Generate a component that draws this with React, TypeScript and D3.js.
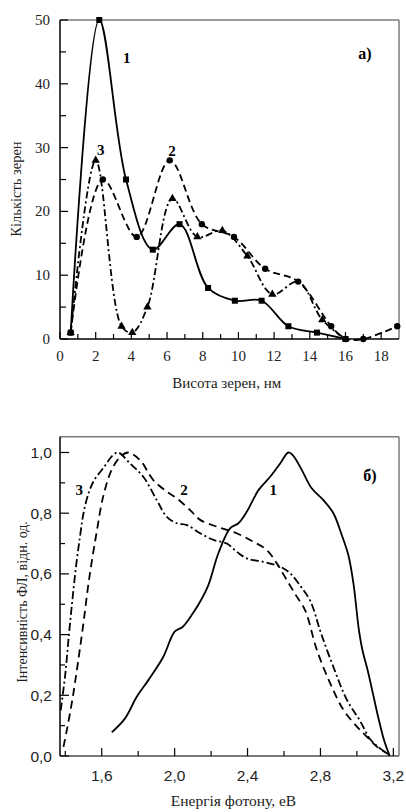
import React from "react";
import * as d3 from "d3";

// Panel а) grain height distribution
const grainX1 = [0.6, 2.2, 3.7, 5.2, 6.7, 8.3, 9.8, 11.3, 12.8, 14.4, 16];
const grainY1 = [1, 50, 25, 14, 18, 8, 6, 6, 2, 1, 0];
const grainX2 = [0.6, 2.4, 4.3, 6.15, 7.95, 9.75, 11.5, 13.35, 15.2, 16, 17, 18.9];
const grainY2 = [1, 25, 16, 28, 18, 16, 11, 9, 2, 0, 0, 2];
const grainX3 = [0.6, 2.0, 3.45, 4.05, 4.9, 6.3, 7.7, 9.1, 10.5, 11.9, 13.35, 14.7, 16];
const grainY3 = [1, 28, 2, 1, 5, 22, 16, 17, 13, 7, 9, 3, 0];
const grainMark3 = [1, 1, 1, 1, 1, 1, 1, 1, 1, 1, 0, 1, 0];
const grainXTicks = [0, 2, 4, 6, 8, 10, 12, 14, 16, 18];
const grainYTicks = [0, 10, 20, 30, 40, 50];

// Panel б) PL spectra
const plE1 = [1.655, 1.728, 1.792, 1.856, 1.938, 2.0, 2.045, 2.1, 2.145, 2.185, 2.24, 2.304, 2.35, 2.396, 2.46, 2.524, 2.579, 2.624, 2.65, 2.698, 2.752, 2.816, 2.871, 2.917, 2.953, 2.981, 3.01, 3.03, 3.06, 3.09, 3.12, 3.15, 3.18];
const plI1 = [0.078, 0.124, 0.195, 0.25, 0.327, 0.41, 0.426, 0.47, 0.514, 0.563, 0.668, 0.75, 0.767, 0.805, 0.876, 0.92, 0.964, 1.0, 0.99, 0.942, 0.882, 0.843, 0.8, 0.728, 0.662, 0.569, 0.42, 0.35, 0.28, 0.2, 0.12, 0.05, 0.0];
const plE2 = [1.39, 1.41, 1.44, 1.47, 1.5, 1.53, 1.57, 1.61, 1.66, 1.71, 1.745, 1.81, 1.883, 1.957, 2.012, 2.085, 2.14, 2.23, 2.34, 2.432, 2.505, 2.56, 2.615, 2.665, 2.716, 2.78, 2.853, 2.926, 3.0, 3.054, 3.109, 3.17];
const plI2 = [0.03, 0.09, 0.19, 0.31, 0.44, 0.58, 0.73, 0.86, 0.95, 0.99, 1.0, 0.975, 0.909, 0.871, 0.849, 0.81, 0.778, 0.756, 0.734, 0.706, 0.679, 0.635, 0.58, 0.53, 0.48, 0.35, 0.24, 0.152, 0.097, 0.064, 0.031, 0.007];
const plE3 = [1.375, 1.4, 1.42, 1.44, 1.46, 1.48, 1.5, 1.53, 1.56, 1.61, 1.66, 1.69, 1.755, 1.828, 1.902, 1.957, 2.012, 2.067, 2.14, 2.213, 2.286, 2.341, 2.396, 2.487, 2.579, 2.634, 2.69, 2.745, 2.8, 2.87, 2.945, 3.018, 3.073, 3.127, 3.18];
const plI3 = [0.15, 0.27, 0.4, 0.52, 0.63, 0.72, 0.8, 0.87, 0.91, 0.95, 0.99, 1.0, 0.964, 0.92, 0.843, 0.788, 0.767, 0.761, 0.734, 0.712, 0.7, 0.673, 0.651, 0.64, 0.624, 0.602, 0.56, 0.51, 0.41, 0.295, 0.185, 0.115, 0.055, 0.025, 0.003];
const plXTicks = [1.6, 2.0, 2.4, 2.8, 3.2];
const plXMinor = [1.4, 1.8, 2.2, 2.6, 3.0];
const plYTicks = [0, 0.2, 0.4, 0.6, 0.8, 1.0];
const plYMinor = [0.1, 0.3, 0.5, 0.7, 0.9];

const SERIF = "'Liberation Serif', 'Times New Roman', serif";
const SANS = "'Liberation Sans', Arial, sans-serif";
const GRAY = "#7a7a7a";

function zip(xs: number[], ys: number[]) {
  return xs.map((x, i) => [x, ys[i]] as [number, number]);
}

function PanelA() {
  const L = 60, R = 399, T = 20, B = 339;
  const x = d3.scaleLinear().domain([0, 19]).range([L, R]);
  const y = d3.scaleLinear().domain([0, 50]).range([B, T]);
  const line = d3
    .line<[number, number]>()
    .x((d) => x(d[0]))
    .y((d) => y(d[1]))
    .curve(d3.curveCatmullRom.alpha(0.5));
  const d1 = zip(grainX1, grainY1);
  const d2 = zip(grainX2, grainY2);
  const d3p = zip(grainX3, grainY3);
  const minorX = d3.range(1, 19, 2);
  const minorY = [5, 15, 25, 35, 45];
  const tri = d3.symbol().type(d3.symbolTriangle).size(30)();
  return (
    <g>
      <line x1={L} x2={R} y1={T} y2={T} stroke={GRAY} strokeWidth={1.5} />
      <line x1={R} x2={R} y1={T} y2={B} stroke={GRAY} strokeWidth={1.5} />
      <line x1={L} x2={R} y1={B} y2={B} stroke="#000" strokeWidth={1.5} />
      <line x1={L} x2={L} y1={T} y2={B} stroke="#000" strokeWidth={1.5} />
      {grainXTicks.map((t) => (
        <g key={"xt" + t}>
          <line x1={x(t)} x2={x(t)} y1={B} y2={B - 7} stroke="#000" strokeWidth={1.2} />
          <text x={x(t)} y={361} textAnchor="middle" fontFamily={SERIF} fontSize={15} fill="#222">
            {t}
          </text>
        </g>
      ))}
      {minorX.map((t) => (
        <line key={"xm" + t} x1={x(t)} x2={x(t)} y1={B} y2={B - 5} stroke="#000" strokeWidth={1.2} />
      ))}
      {grainYTicks.map((t) => (
        <g key={"yt" + t}>
          <line x1={L} x2={L + 8} y1={y(t)} y2={y(t)} stroke="#000" strokeWidth={1.2} />
          <text x={50} y={y(t) + 5} textAnchor="end" fontFamily={SERIF} fontSize={15} fill="#222">
            {t}
          </text>
        </g>
      ))}
      {minorY.map((t) => (
        <line key={"ym" + t} x1={L} x2={L + 6} y1={y(t)} y2={y(t)} stroke="#000" strokeWidth={1.2} />
      ))}
      <path d={line(d1) || ""} fill="none" stroke="#000" strokeWidth={1.8} />
      <path d={line(d2) || ""} fill="none" stroke="#000" strokeWidth={1.8} strokeDasharray="7 4" />
      <path d={line(d3p) || ""} fill="none" stroke="#000" strokeWidth={1.8} strokeDasharray="7 3 2 3" />
      {d3p.map((p, i) =>
        grainMark3[i] ? (
          <path key={"t" + i} d={tri || ""} transform={`translate(${x(p[0])},${y(p[1])})`} fill="#000" />
        ) : null
      )}
      {d2.map((p, i) => (
        <circle key={"c" + i} cx={x(p[0])} cy={y(p[1])} r={3.2} fill="#000" />
      ))}
      {d1.map((p, i) => (
        <rect key={"s" + i} x={x(p[0]) - 3} y={y(p[1]) - 3} width={6} height={6} fill="#000" />
      ))}
      <text x={126.7} y={63} textAnchor="middle" fontFamily={SERIF} fontWeight="bold" fontSize={15}>1</text>
      <text x={100.7} y={155} textAnchor="middle" fontFamily={SERIF} fontWeight="bold" fontSize={15}>3</text>
      <text x={172} y={155.5} textAnchor="middle" fontFamily={SERIF} fontWeight="bold" fontSize={15}>2</text>
      <text x={365} y={58.5} textAnchor="middle" fontFamily={SERIF} fontWeight="bold" fontSize={16}>а)</text>
      <text x={226.7} y={388} textAnchor="middle" fontFamily={SERIF} fontSize={15} fill="#222">
        Висота зерен, нм
      </text>
      <text transform="translate(21,189) rotate(-90)" textAnchor="middle" fontFamily={SERIF} fontSize={14.5} fill="#222">
        Кількість зерен
      </text>
    </g>
  );
}

function PanelB() {
  const L = 60, R = 399, T = 436.7, B = 756;
  const x = d3.scaleLinear().domain([1.371, 3.231]).range([L, R]);
  const y = d3.scaleLinear().domain([0, 1]).range([B, 452.5]);
  const line = d3
    .line<[number, number]>()
    .x((d) => x(d[0]))
    .y((d) => y(d[1]))
    .curve(d3.curveCatmullRom.alpha(0.5));
  const fmt = (v: number) => v.toFixed(1).replace(".", ",");
  return (
    <g>
      <line x1={L} x2={R} y1={T} y2={T} stroke={GRAY} strokeWidth={1.5} />
      <line x1={R} x2={R} y1={T} y2={B} stroke={GRAY} strokeWidth={1.5} />
      <line x1={L} x2={R} y1={B} y2={B} stroke={GRAY} strokeWidth={1.8} />
      <line x1={L} x2={L} y1={T} y2={B} stroke="#000" strokeWidth={1.5} />
      {plXTicks.map((t) => (
        <g key={"xt" + t}>
          <line x1={x(t)} x2={x(t)} y1={B} y2={B - 8} stroke="#000" strokeWidth={1.2} />
          <text x={x(t)} y={780.5} textAnchor="middle" fontFamily={SANS} fontSize={15.5} fill="#222">
            {fmt(t)}
          </text>
        </g>
      ))}
      {plXMinor.map((t) => (
        <line key={"xm" + t} x1={x(t)} x2={x(t)} y1={B} y2={B - 5} stroke="#000" strokeWidth={1.2} />
      ))}
      {plYTicks.map((t) => (
        <g key={"yt" + t}>
          <line x1={L} x2={L + 9} y1={y(t)} y2={y(t)} stroke="#000" strokeWidth={1.2} />
          <text x={52} y={y(t) + 5.5} textAnchor="end" fontFamily={SANS} fontSize={15.5} fill="#222">
            {fmt(t)}
          </text>
        </g>
      ))}
      {plYMinor.map((t) => (
        <line key={"ym" + t} x1={L} x2={L + 5} y1={y(t)} y2={y(t)} stroke="#000" strokeWidth={1.2} />
      ))}
      <path d={line(zip(plE1, plI1)) || ""} fill="none" stroke="#000" strokeWidth={1.8} />
      <path d={line(zip(plE2, plI2)) || ""} fill="none" stroke="#000" strokeWidth={1.8} strokeDasharray="8 5" />
      <path d={line(zip(plE3, plI3)) || ""} fill="none" stroke="#000" strokeWidth={1.8} strokeDasharray="8 3 2 3" />
      <text x={273.3} y={495} textAnchor="middle" fontFamily={SERIF} fontWeight="bold" fontSize={15}>1</text>
      <text x={184} y={495} textAnchor="middle" fontFamily={SERIF} fontWeight="bold" fontSize={15}>2</text>
      <text x={79.3} y={495} textAnchor="middle" fontFamily={SERIF} fontWeight="bold" fontSize={15}>3</text>
      <text x={370} y={480.5} textAnchor="middle" fontFamily={SERIF} fontWeight="bold" fontSize={16}>б)</text>
      <text x={233.5} y={806} textAnchor="middle" fontFamily={SERIF} fontSize={15.5} fill="#222">
        Енергія фотону, еВ
      </text>
      <text transform="translate(27,602) rotate(-90)" textAnchor="middle" fontFamily={SERIF} fontSize={14} fill="#222">
        Інтенсивність ФЛ, відн. од.
      </text>
    </g>
  );
}

export default function App() {
  return (
    <svg
      width={406}
      height={812}
      viewBox="0 0 406 812"
      style={{ position: "absolute", left: 0, top: 0, background: "#fff" }}
    >
      <rect x={0} y={0} width={406} height={812} fill="#fff" />
      <PanelA />
      <PanelB />
    </svg>
  );
}
